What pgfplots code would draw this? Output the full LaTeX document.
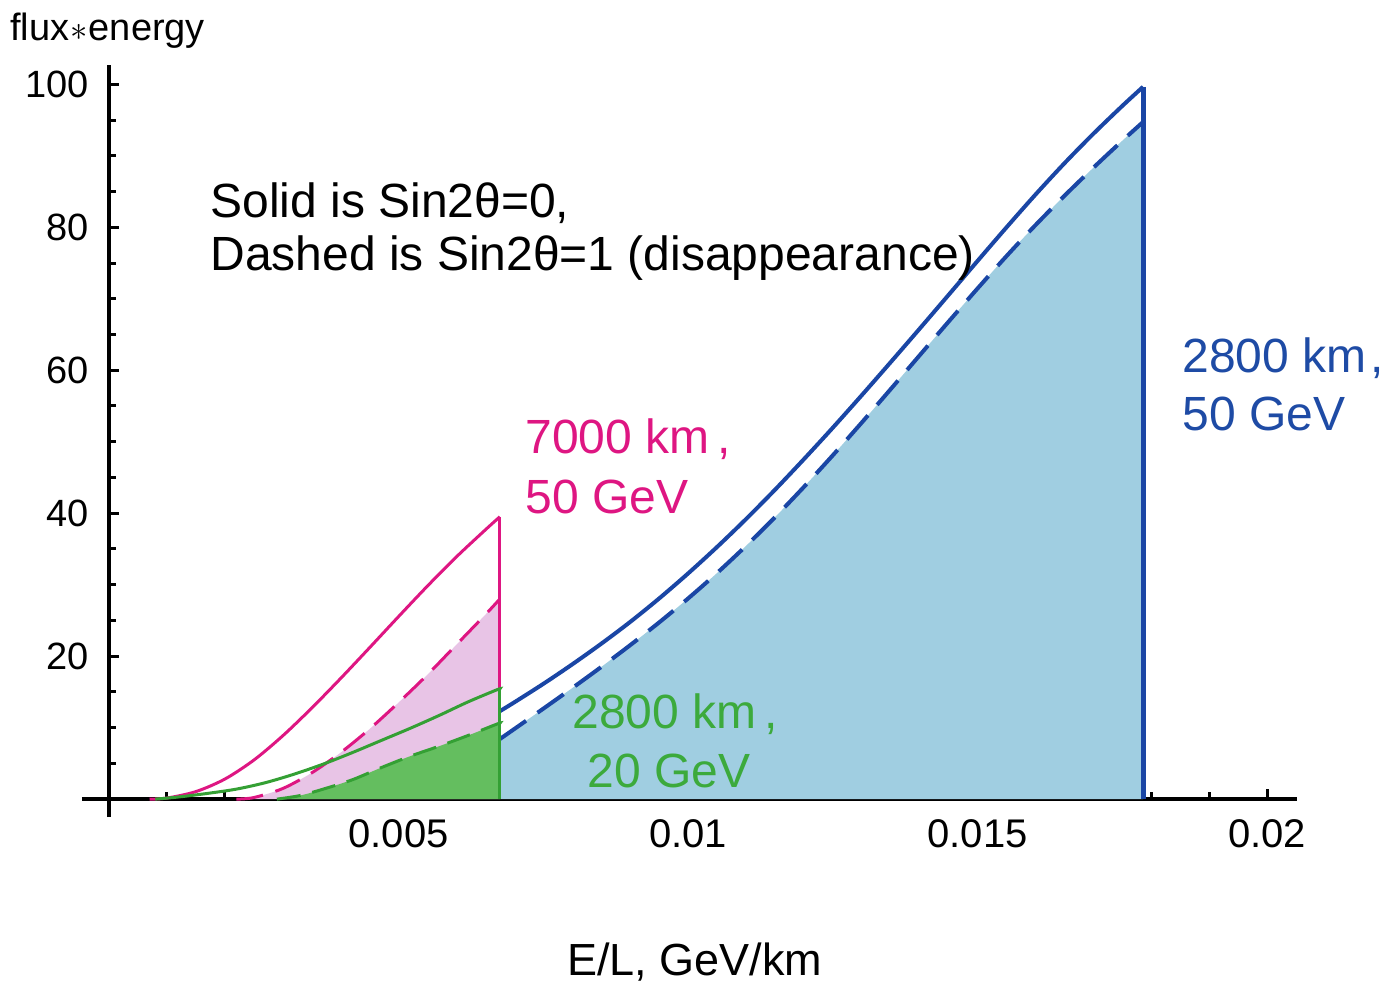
\documentclass[border=0pt]{standalone}
\usepackage{pgfplots}
\pgfplotsset{compat=1.18}
\usepackage{fontspec}
\setmainfont{Liberation Sans}
\definecolor{bline}{RGB}{26,70,165}
\definecolor{bfill}{RGB}{160,206,225}
\definecolor{mline}{RGB}{222,22,130}
\definecolor{mfill}{RGB}{232,196,230}
\definecolor{gline}{RGB}{52,160,52}
\definecolor{gfill}{RGB}{100,190,95}
\definecolor{gtext}{RGB}{60,170,60}
\definecolor{btext}{RGB}{30,75,165}
\newcommand{\lab}{\fontsize{24}{24}\selectfont}
\begin{document}
\begin{tikzpicture}
\path[use as bounding box] (-41pt,-82.5pt) rectangle (658pt,408.5pt);
\begin{axis}[at={(0pt,0pt)}, anchor=south west, scale only axis,
  width=607.5pt, height=376pt,
  xmin=-0.000466, xmax=0.020518, ymin=-2.5, ymax=102.7,
  axis lines=middle,
  axis line style={-, line width=2pt, black},
  every inner x axis line/.append style={-},
  every inner y axis line/.append style={-},
  xtick={0.005,0.01,0.015,0.02}, xticklabels={0.005,0.01,0.015,0.02},
  minor xtick={0.001,0.002,0.003,0.004,0.006,0.007,0.008,0.009,0.011,0.012,0.013,0.014,0.016,0.017,0.018,0.019},
  ytick={20,40,60,80,100}, yticklabels={20,40,60,80,100},
  minor ytick={5,10,15,25,30,35,45,50,55,65,70,75,85,90,95},
  scaled x ticks=false,
  tick align=inside,
  major tick length=5pt, minor tick length=3.5pt,
  every tick/.style={line width=1.5pt, black},
  yticklabel style={font=\fontsize{19}{19}\selectfont, xshift=-6.5pt},
  xticklabel style={font=\fontsize{20}{20}\selectfont, yshift=-6.5pt},
  clip=false]
% ---- 2800 km, 50 GeV (blue) ----
\addplot[fill=bfill, draw=none, smooth] coordinates {
 (0.00675,8.4) (0.0070,9.81) (0.0075,12.65) (0.0080,15.53) (0.0085,18.48)
 (0.0090,21.53) (0.0095,24.71) (0.0100,28.06) (0.0105,31.62) (0.0110,35.41)
 (0.0115,39.42) (0.0120,43.66) (0.0125,48.09) (0.0130,52.67) (0.0135,57.35)
 (0.0140,62.08) (0.0145,66.79) (0.0150,71.43) (0.0155,75.96) (0.0160,80.29)
 (0.0165,84.39) (0.0170,88.32) (0.0175,92.10) (0.01786,94.73)} \closedcycle;
\addplot[bline, line width=2pt, dash pattern=on 16pt off 7pt, smooth] coordinates {
 (0.00675,8.4) (0.0070,9.81) (0.0075,12.65) (0.0080,15.53) (0.0085,18.48)
 (0.0090,21.53) (0.0095,24.71) (0.0100,28.06) (0.0105,31.62) (0.0110,35.41)
 (0.0115,39.42) (0.0120,43.66) (0.0125,48.09) (0.0130,52.67) (0.0135,57.35)
 (0.0140,62.08) (0.0145,66.79) (0.0150,71.43) (0.0155,75.96) (0.0160,80.29)
 (0.0165,84.39) (0.0170,88.32) (0.0175,92.10) (0.01786,94.73)};
\addplot[bline, line width=2pt, smooth] coordinates {
 (0.00675,12.3) (0.0070,13.54) (0.0075,16.12) (0.0080,18.85) (0.0085,21.73)
 (0.0090,24.78) (0.0095,28.06) (0.0100,31.56) (0.0105,35.26) (0.0110,39.16)
 (0.0115,43.26) (0.0120,47.54) (0.0125,51.95) (0.0130,56.49) (0.0135,61.12)
 (0.0140,65.80) (0.0145,70.53) (0.0150,75.28) (0.0155,79.98) (0.0160,84.56)
 (0.0165,88.94) (0.0170,93.07) (0.0175,96.97) (0.01786,99.65)};
\addplot[bline, line width=2.5pt] coordinates {(0.01786,99.65) (0.01786,0)};
% ---- 7000 km, 50 GeV (magenta) fill ----
\addplot[fill=mfill, draw=none, smooth] coordinates {
 (0.0022,0) (0.0025,0.22) (0.003,1.48) (0.0035,3.67) (0.004,6.5) (0.0045,9.8)
 (0.005,13.5) (0.0055,17.4) (0.006,21.6) (0.0065,25.8) (0.00675,28.0)} \closedcycle;
% ---- 2800 km, 20 GeV (green) fill ----
\addplot[fill=gfill, draw=none, smooth] coordinates {
 (0.0029,0) (0.0033,0.5) (0.0037,1.4) (0.0042,2.7) (0.0047,4.4) (0.0052,6.0)
 (0.0057,7.4) (0.0062,8.9) (0.0067,10.5) (0.00675,10.6)} \closedcycle;
\addplot[mline, line width=1.5pt, dash pattern=on 13.5pt off 6.5pt, smooth] coordinates {
 (0.0022,0) (0.0025,0.22) (0.003,1.48) (0.0035,3.67) (0.004,6.5) (0.0045,9.8)
 (0.005,13.5) (0.0055,17.4) (0.006,21.6) (0.0065,25.8) (0.00675,28.0)};
\addplot[mline, line width=1.5pt, smooth] coordinates {
 (0.0007,0) (0.001,0.15) (0.0015,1.05) (0.002,2.8) (0.0025,5.45) (0.003,8.85)
 (0.0035,12.73) (0.004,16.88) (0.0045,21.18) (0.005,25.53) (0.0055,29.81)
 (0.006,33.89) (0.0065,37.67) (0.00675,39.5)};
\addplot[mline, line width=1.5pt] coordinates {(0.00675,39.5) (0.00675,0)};
\addplot[gline, line width=1.5pt, dash pattern=on 12pt off 6pt, smooth] coordinates {
 (0.0029,0) (0.0033,0.5) (0.0037,1.4) (0.0042,2.7) (0.0047,4.4) (0.0052,6.0)
 (0.0057,7.4) (0.0062,8.9) (0.0067,10.5) (0.00675,10.6)};
\addplot[gline, line width=1.5pt, smooth] coordinates {
 (0.0008,0) (0.0012,0.3) (0.0017,0.8) (0.0022,1.4) (0.0027,2.3) (0.0032,3.5)
 (0.0037,4.9) (0.0042,6.5) (0.0047,8.2) (0.0052,9.9) (0.0057,11.7)
 (0.0062,13.6) (0.0067,15.3) (0.00675,15.4)};
\addplot[gline, line width=1.5pt] coordinates {(0.00675,15.4) (0.00675,0)};
\end{axis}
% ---- texts ----
\node[anchor=base west, inner sep=0] at (64pt,300pt) {\lab Solid is Sin2θ=0,};
\node[anchor=base west, inner sep=0] at (64pt,273.5pt) {\lab Dashed is Sin2θ=1 (disappearance)};
\node[anchor=base west, inner sep=0, text=mline] at (221.5pt,182pt) {\lab 7000 km\,,};
\node[anchor=base west, inner sep=0, text=mline] at (221.5pt,152pt) {\lab 50 GeV};
\node[anchor=base west, inner sep=0, text=btext] at (550pt,222.5pt) {\lab 2800 km\kern2pt,};
\node[anchor=base west, inner sep=0, text=btext] at (550pt,193.5pt) {\lab 50 GeV};
\node[anchor=base west, inner sep=0, text=gtext] at (245pt,44.5pt) {\lab 2800 km\,,};
\node[anchor=base west, inner sep=0, text=gtext] at (252.5pt,15pt) {\lab 20 GeV};
\node[anchor=base west, inner sep=0] at (242.5pt,-79pt) {\fontsize{22.5}{22.5}\selectfont E/L, GeV/km};
\node[anchor=base west, inner sep=0] at (-36pt,388pt) {\fontsize{19}{19}\selectfont flux\kern0.5pt$\ast$\kern0.5pt energy};
\end{tikzpicture}
\end{document}
